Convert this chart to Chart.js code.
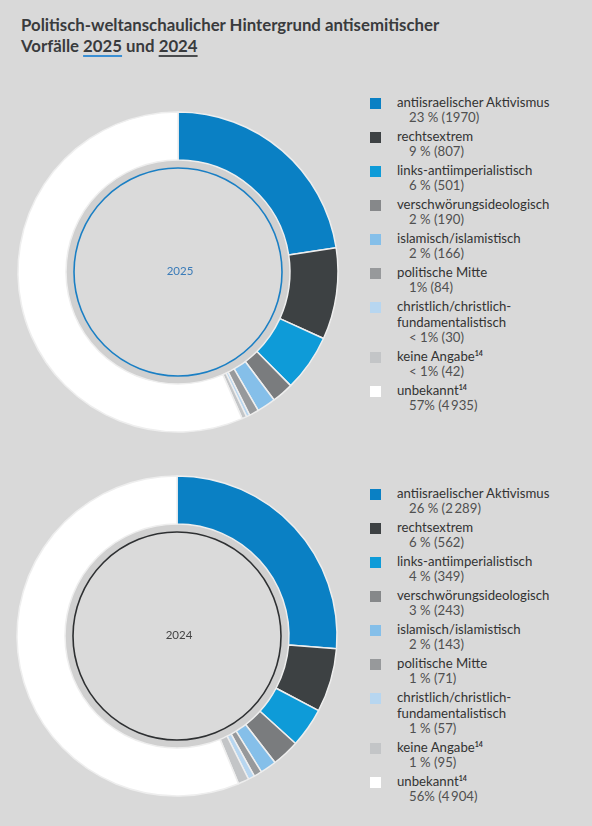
<!DOCTYPE html>
<html><head><meta charset="utf-8">
<script src="https://cdn.jsdelivr.net/npm/chart.js@4.4.1/dist/chart.umd.min.js"></script>
<style>
html,body{margin:0;padding:0;background:#d9d9d9;}
body{width:592px;height:826px;position:relative;overflow:hidden;font-family:"Lato",sans-serif;}
#title{position:absolute;left:21px;top:13.7px;font-weight:bold;font-size:16.8px;line-height:21px;color:#393b3d;white-space:nowrap;}
#title u{text-decoration-thickness:1.6px;text-underline-offset:3.4px;}
.cv{position:absolute;}
.legend{position:absolute;left:370px;font-size:13.2px;line-height:15.1px;color:#333;}
.item{position:relative;padding-left:27px;margin-bottom:3.9px;}
.sw{position:absolute;left:0;top:3px;width:11px;height:11px;}
.val{padding-left:12px;color:#505050;}
sup{font-size:7px;line-height:0;vertical-align:5px;font-weight:bold;}
</style></head>
<body>
<div id="title">Politisch-weltanschaulicher Hintergrund antisemitischer<br>Vorfälle <u style="text-decoration-color:#3a8fd4">2025</u> und <u style="text-decoration-color:#4a4c4e">2024</u></div>
<canvas id="c2025" class="cv" width="356" height="340" style="left:0;top:101.7px;width:356px;height:340px"></canvas>
<canvas id="c2024" class="cv" width="354" height="340" style="left:0;top:465.8px;width:354px;height:340px"></canvas>
<div id="l2025" class="legend" style="top:95px"></div>
<div id="l2024" class="legend" style="top:486px"></div>
<script>
// categories (HTML allowed for superscripts / line breaks in legend)
const categories = [
  'antiisraelischer Aktivismus',
  'rechtsextrem',
  'links-antiimperialistisch',
  'verschwörungsideologisch',
  'islamisch/islamistisch',
  'politische Mitte',
  'christlich/christlich-<br>fundamentalistisch',
  'keine Angabe<sup>14</sup>',
  'unbekannt<sup>14</sup>'
];
const colors = ['#0a80c4','#3d4143','#0e9bd8','#7a7c7e','#85bfe9','#97999b','#b7d6f0','#c3c5c7','#ffffff'];
const swatchColors = ['#0a80c4','#3d4143','#0e9bd8','#86888a','#85bfe9','#97999b','#b7d6f0','#c3c5c7','#ffffff'];
const values2025 = [1970, 807, 501, 190, 166, 84, 30, 42, 4935];
const values2024 = [2289, 562, 349, 243, 143, 71, 57, 95, 4904];
const pct2025 = ['23 %','9 %','6 %','2 %','2 %','1%','< 1%','< 1%','57%'];
const pct2024 = ['26 %','6 %','4 %','3 %','2 %','1 %','1 %','1 %','56%'];
const years = ['2025','2024'];

function fmt(n, year){
  // thousands grouped with a thin space as printed in the source
  const s = String(n);
  if (s.length < 4) return s;
  if (year === '2025' && n < 2000) return s;
  return s.slice(0, s.length-3) + '\u2009' + s.slice(-3);
}

function buildLegend(el, pcts, vals, year){
  let h = '';
  categories.forEach((c,i)=>{
    h += '<div class="item"><span class="sw" style="background:'+swatchColors[i]+'"></span>'+c+
         '<div class="val">'+pcts[i]+' ('+fmt(vals[i],year)+')</div></div>';
  });
  el.innerHTML = h;
}
buildLegend(document.getElementById('l2025'), pct2025, values2025, '2025');
buildLegend(document.getElementById('l2024'), pct2024, values2024, '2024');

function ringPlugin(lineColor, textColor, label){
  return {
    id:'ring'+label,
    beforeDatasetsDraw(chart){
      const a = chart.getDatasetMeta(0).data[0];
      if(!a) return;
      const ctx = chart.ctx, r = a.innerRadius;
      ctx.save();
      ctx.beginPath();
      ctx.arc(a.x, a.y, r, 0, Math.PI*2);
      ctx.arc(a.x, a.y, r-8, 0, Math.PI*2, true);
      ctx.fillStyle = '#d0d0d0';
      ctx.fill();
      ctx.beginPath();
      ctx.arc(a.x, a.y, r-8, 0, Math.PI*2);
      ctx.fillStyle = '#dadada';
      ctx.fill();
      ctx.restore();
    },
    afterDatasetsDraw(chart){
      const a = chart.getDatasetMeta(0).data[0];
      if(!a) return;
      const ctx = chart.ctx, r = a.innerRadius;
      ctx.save();
      ctx.beginPath();
      ctx.arc(a.x, a.y, r-8, 0, Math.PI*2);
      ctx.strokeStyle = lineColor;
      ctx.lineWidth = 1.6;
      ctx.stroke();
      ctx.fillStyle = textColor;
      ctx.font = '11.5px Lato';
      ctx.textAlign = 'center';
      ctx.textBaseline = 'middle';
      ctx.fillText(label, a.x + 2, a.y - 1);
      ctx.restore();
    }
  };
}

function makeChart(id, vals, lineColor, textColor, label){
  return new Chart(document.getElementById(id), {
    type:'doughnut',
    data:{
      labels: categories.map(c=>c.replace(/<[^>]+>/g,'')),
      datasets:[{
        data: vals,
        backgroundColor: colors,
        borderColor: '#eeeeee',
        borderWidth: 1.5,
        hoverOffset: 0,
        offset: 0
      }]
    },
    options:{
      responsive:false,
      animation:false,
      radius:160,
      cutout:'70%',
      layout:{padding:0},
      plugins:{legend:{display:false}, tooltip:{enabled:false}},
      events:[]
    },
    plugins:[ringPlugin(lineColor, textColor, label)]
  });
}
makeChart('c2025', values2025, '#1a7fc4', '#3a7bb8', years[0]);
makeChart('c2024', values2024, '#2e3032', '#444444', years[1]);
</script>
</body></html>
